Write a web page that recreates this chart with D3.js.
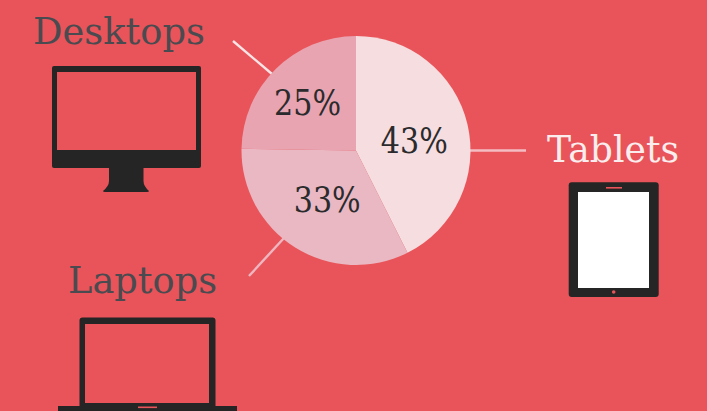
<!DOCTYPE html>
<html>
<head>
<meta charset="utf-8">
<script src="https://cdn.jsdelivr.net/npm/d3@7"></script>
<style>
  html, body { margin: 0; padding: 0; background: #E85459; overflow: hidden; }
  svg { display: block; }
  text { font-family: "DejaVu Serif", serif; paint-order: stroke; }
</style>
</head>
<body>
<svg id="chart" width="707" height="411"></svg>
<script>
// Device share of traffic
const devices = ["Tablets", "Laptops", "Desktops"];
const shares = [43, 33, 25];
const sliceColors = ["#F6DDE0", "#E9B8C2", "#E8A4B1"];
const labelRadii = [60, 58, 69];
const labelDrop = [16, 12, 14];

const svg = d3.select("#chart");
const INK = "#252525";
const BG = "#E85459";

const pie = d3.pie().sort(null).startAngle(0).endAngle(2 * Math.PI);
const arcs = pie(shares);
const radius = 114.5;
const arc = d3.arc().innerRadius(0).outerRadius(radius);

// Leader lines sit under the pie and join each slice to its device name
const leaders = [
  { name: "Desktops", x1: 233, y1: 41, x2: 272, y2: 74, color: "#F6E3E5" },
  { name: "Tablets", x1: 465, y1: 150.5, x2: 526, y2: 150.5, color: "#F3BDC3" },
  { name: "Laptops", x1: 249, y1: 276, x2: 284, y2: 238, color: "#EDB6C0" }
];
svg.append("g").selectAll("line").data(leaders).join("line")
  .attr("x1", d => d.x1).attr("y1", d => d.y1)
  .attr("x2", d => d.x2).attr("y2", d => d.y2)
  .attr("stroke", d => d.color).attr("stroke-width", 2.4);

const pieGroup = svg.append("g").attr("transform", "translate(356,150.5)");
pieGroup.selectAll("path").data(arcs).join("path")
  .attr("d", arc)
  .attr("fill", (d, i) => sliceColors[i]);

// Percent labels; a stroke in the slice colour gives the glyphs a lighter weight
pieGroup.selectAll("text").data(arcs).join("text")
  .attr("transform", (d, i) => {
    const [x, y] = d3.arc().innerRadius(labelRadii[i]).outerRadius(labelRadii[i]).centroid(d);
    return `translate(${x + (i === 1 ? 2 : 0)},${y + labelDrop[i]})`;
  })
  .attr("text-anchor", "middle")
  .attr("font-size", 36)
  .attr("textLength", 67)
  .attr("lengthAdjust", "spacingAndGlyphs")
  .attr("fill", "#2B2B2D")
  .attr("stroke", (d, i) => sliceColors[i])
  .attr("stroke-width", 1)
  .text(d => d.data + "%");

// Device names
const names = [
  { text: devices[2], x: 33, y: 44, width: 172, color: "#4A4B50" },
  { text: devices[0], x: 547, y: 162, width: 132, color: "#FBEDEE" },
  { text: devices[1], x: 68, y: 293, width: 149, color: "#4A4B50" }
];
svg.append("g").selectAll("text").data(names).join("text")
  .attr("x", d => d.x).attr("y", d => d.y)
  .attr("font-size", 37)
  .attr("textLength", d => d.width)
  .attr("lengthAdjust", "spacingAndGlyphs")
  .attr("fill", d => d.color)
  .attr("stroke", BG)
  .attr("stroke-width", 0.9)
  .text(d => d.text);

// Desktop monitor
const monitor = svg.append("g");
monitor.append("rect").attr("x", 52).attr("y", 66).attr("width", 149).attr("height", 102).attr("rx", 2).attr("fill", INK);
monitor.append("rect").attr("x", 57).attr("y", 72).attr("width", 139).attr("height", 78).attr("fill", BG);
monitor.append("path")
  .attr("d", "M109,167 V181 Q109,186 103,191 Q103,192 105,192 H147 Q149,192 149,191 Q143.5,186 143.5,181 V167 Z")
  .attr("fill", INK);

// Tablet
const tablet = svg.append("g");
tablet.append("rect").attr("x", 568.7).attr("y", 182.3).attr("width", 90).attr("height", 114.7).attr("rx", 3).attr("fill", INK);
tablet.append("rect").attr("x", 578).attr("y", 192).attr("width", 71).attr("height", 96).attr("fill", "#FFFFFF");
tablet.append("rect").attr("x", 606).attr("y", 187).attr("width", 16).attr("height", 1.6).attr("fill", BG);
tablet.append("circle").attr("cx", 613.7).attr("cy", 292).attr("r", 1.8).attr("fill", BG);

// Laptop
const laptop = svg.append("g");
laptop.append("rect").attr("x", 79.5).attr("y", 317.5).attr("width", 136).attr("height", 100).attr("rx", 3).attr("fill", INK);
laptop.append("rect").attr("x", 85).attr("y", 324).attr("width", 124).attr("height", 79).attr("fill", BG);
laptop.append("rect").attr("x", 58).attr("y", 406).attr("width", 179).attr("height", 6).attr("fill", INK);
laptop.append("rect").attr("x", 138).attr("y", 406.5).attr("width", 19).attr("height", 1.6).attr("fill", BG);
</script>
</body>
</html>
